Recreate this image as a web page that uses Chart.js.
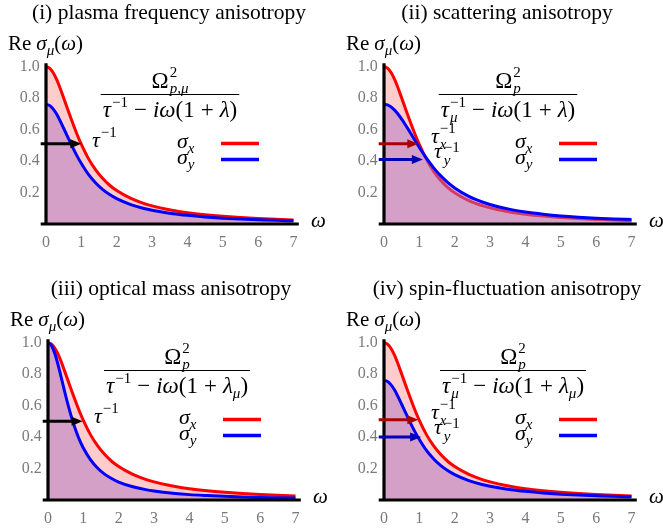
<!DOCTYPE html>
<html>
<head>
<meta charset="utf-8">
<script src="https://cdn.jsdelivr.net/npm/chart.js@4.4.0/dist/chart.umd.min.js"></script>
<style>
  body { margin: 0; background: #fff; width: 663px; height: 530px; position: relative; overflow: hidden; }
  .panel { position: absolute; width: 325px; height: 254px; }
</style>
</head>
<body>
<div class="panel" style="left:0;top:0"><canvas id="c1" width="325" height="254"></canvas></div>
<div class="panel" style="left:338px;top:0"><canvas id="c2" width="325" height="254"></canvas></div>
<div class="panel" style="left:2px;top:276px"><canvas id="c3" width="325" height="254"></canvas></div>
<div class="panel" style="left:338px;top:276px"><canvas id="c4" width="325" height="254"></canvas></div>
<script>
// frequency grid (omega) and curves
const omega = [0, 0.1, 0.2, 0.3, 0.4, 0.5, 0.6, 0.7, 0.8, 0.9, 1.0, 1.2, 1.4, 1.6, 1.8, 2.0, 2.4, 2.8, 3.2, 3.6, 4.0, 4.5, 5, 5.5, 6, 6.5, 7];

const sigmaX_i   = [1.000, 0.990, 0.962, 0.918, 0.862, 0.800, 0.737, 0.674, 0.614, 0.557, 0.505, 0.415, 0.345, 0.290, 0.246, 0.212, 0.162, 0.128, 0.104, 0.086, 0.072, 0.059, 0.049, 0.041, 0.035, 0.030, 0.026];
const sigmaY_i   = [0.760, 0.752, 0.731, 0.698, 0.655, 0.608, 0.560, 0.512, 0.466, 0.423, 0.384, 0.315, 0.262, 0.220, 0.187, 0.161, 0.123, 0.097, 0.079, 0.065, 0.055, 0.045, 0.037, 0.031, 0.027, 0.023, 0.020];

const sigmaX_ii  = [1.000, 0.990, 0.962, 0.918, 0.862, 0.800, 0.737, 0.674, 0.614, 0.557, 0.505, 0.410, 0.335, 0.278, 0.233, 0.198, 0.148, 0.115, 0.092, 0.075, 0.062, 0.050, 0.041, 0.034, 0.029, 0.025, 0.021];
const sigmaY_ii  = [0.760, 0.756, 0.743, 0.723, 0.697, 0.666, 0.632, 0.596, 0.559, 0.522, 0.486, 0.418, 0.358, 0.307, 0.264, 0.229, 0.175, 0.138, 0.111, 0.091, 0.076, 0.062, 0.051, 0.043, 0.037, 0.032, 0.028];

const sigmaX_iii = [1.000, 0.990, 0.962, 0.918, 0.862, 0.800, 0.737, 0.674, 0.614, 0.557, 0.505, 0.415, 0.345, 0.290, 0.246, 0.212, 0.162, 0.128, 0.104, 0.086, 0.072, 0.059, 0.049, 0.041, 0.035, 0.030, 0.026];
const sigmaY_iii = [1.000, 0.980, 0.925, 0.845, 0.754, 0.662, 0.577, 0.500, 0.434, 0.377, 0.330, 0.256, 0.203, 0.164, 0.136, 0.114, 0.084, 0.064, 0.051, 0.041, 0.034, 0.028, 0.023, 0.019, 0.016, 0.014, 0.012];

const sigmaX_iv  = [1.000, 0.990, 0.962, 0.918, 0.862, 0.800, 0.737, 0.674, 0.614, 0.557, 0.505, 0.415, 0.345, 0.290, 0.246, 0.212, 0.162, 0.128, 0.104, 0.086, 0.072, 0.059, 0.049, 0.041, 0.035, 0.030, 0.026];
const sigmaY_iv  = [0.760, 0.752, 0.731, 0.698, 0.655, 0.608, 0.560, 0.512, 0.466, 0.423, 0.384, 0.315, 0.262, 0.220, 0.187, 0.161, 0.123, 0.097, 0.079, 0.065, 0.055, 0.045, 0.037, 0.031, 0.027, 0.023, 0.020];

// tau^-1 arrows: height and where the tip ends
const arrowLevel_i = [0.51],        arrowTip_i = [1.0];
const arrowLevel_ii = [0.51, 0.41], arrowTip_ii = [0.97, 1.1];
const arrowLevel_iii = [0.50],      arrowTip_iii = [0.98];
const arrowLevel_iv = [0.51, 0.40], arrowTip_iv = [0.97, 1.05];

const xTicks = [0, 1, 2, 3, 4, 5, 6, 7];
const yTicks = [0.2, 0.4, 0.6, 0.8, 1.0];

const titles = [
  '(i) plasma frequency anisotropy',
  '(ii) scattering anisotropy',
  '(iii) optical mass anisotropy',
  '(iv) spin-fluctuation anisotropy'
];

const FONT = '"Liberation Serif", "DejaVu Serif", serif';
const S = 22, s = 15, F2 = 23;

function fnt(p){
  return (p[1] === 'i' ? 'italic ' : '') + p[2] + 'px ' + FONT;
}
function G(n){ return {gap: n}; }

// parts: [text, 'i'|'n', size, dy, stackUnderPrevious] or a gap
function measure(ctx, parts){
  let cx = 0, lastStart = 0, lastEnd = 0;
  const pos = [];
  parts.forEach(p => {
    if(p.gap !== undefined){ pos.push(cx); cx += p.gap; lastStart = cx; lastEnd = cx; return; }
    ctx.font = fnt(p);
    const w = ctx.measureText(p[0]).width;
    const start = p[4] ? lastStart : cx;
    pos.push(start);
    if(p[4]){ cx = Math.max(lastEnd, start + w); }
    else { lastStart = start; lastEnd = start + w; cx = start + w; }
  });
  return {w: cx, pos: pos};
}

function rich(ctx, parts, x, y, align){
  const m = measure(ctx, parts);
  let x0 = x;
  if(align === 'center') x0 = x - m.w / 2;
  ctx.textAlign = 'left';
  ctx.textBaseline = 'alphabetic';
  parts.forEach((p, k) => {
    if(p.gap !== undefined) return;
    ctx.font = fnt(p);
    ctx.fillText(p[0], x0 + m.pos[k], y + (p[3] || 0));
  });
  return m.w;
}

const numA = [['Ω','n',F2,0],G(1),['2','n',s,-11],['p,μ','i',s,5,true]];
const numB = [['Ω','n',F2,0],G(1),['2','n',s,-11],['p','i',s,5,true]];
const tail = [G(6),['−','n',F2,0],G(6),['iω','i',F2,0],['(1','n',F2,0],G(6),['+','n',F2,0],G(6),['λ','i',F2,0]];
const denoms = [
  [['τ','i',F2,0],G(1),['−1','n',s,-10]].concat(tail, [[')','n',F2,0]]),
  [['τ','i',F2,0],G(1),['−1','n',s,-10],['μ','i',s,5,true]].concat(tail, [[')','n',F2,0]]),
  [['τ','i',F2,0],G(1),['−1','n',s,-10]].concat(tail, [['μ','i',s,5],[')','n',F2,0]]),
  [['τ','i',F2,0],G(1),['−1','n',s,-10],['μ','i',s,5,true]].concat(tail, [['μ','i',s,5],[')','n',F2,0]])
];
const nums = [numA, numB, numB, numB];
const fracCenter = [170, 170, 175, 175];

const yLabel = [['Re','n',21,0],G(5),['σ','i',21,0],['μ','i',s,5],['(','n',21,0],['ω','i',21,0],[')','n',21,0]];

function arrow(ctx, x0, x1, y, color){
  ctx.save();
  ctx.strokeStyle = color; ctx.fillStyle = color;
  ctx.lineWidth = 3;
  ctx.beginPath(); ctx.moveTo(x0, y); ctx.lineTo(x1 - 8, y); ctx.stroke();
  ctx.beginPath(); ctx.moveTo(x1, y); ctx.lineTo(x1 - 11, y - 4.5); ctx.lineTo(x1 - 11, y + 4.5); ctx.closePath(); ctx.fill();
  ctx.restore();
}

function overlay(idx, levels, tips){
  return {
    id: 'overlay' + idx,
    afterDatasetsDraw(chart){
      const ctx = chart.ctx, xs = chart.scales.x, ys = chart.scales.y;
      ctx.save();
      // axes
      ctx.strokeStyle = '#000'; ctx.lineWidth = 3.2;
      ctx.beginPath();
      ctx.moveTo(xs.getPixelForValue(0), ys.getPixelForValue(0));
      ctx.lineTo(xs.getPixelForValue(0), ys.getPixelForValue(1.02));
      ctx.moveTo(xs.getPixelForValue(-0.15), ys.getPixelForValue(0));
      ctx.lineTo(xs.getPixelForValue(7.15), ys.getPixelForValue(0));
      ctx.stroke();

      // arrows
      const twoArrows = levels.length > 1;
      const arrowColors = twoArrows ? ['#a80000', '#0000b4'] : ['#000'];
      levels.forEach((lv, k) => {
        arrow(ctx, xs.getPixelForValue(-0.15), xs.getPixelForValue(tips[k]), ys.getPixelForValue(lv), arrowColors[k]);
      });

      ctx.fillStyle = '#000';
      // tau labels
      if(twoArrows){
        rich(ctx, [['τ','i',S,0],G(1),['−1','n',s,-10],['x','i',s,6,true]], 93, 143);
        rich(ctx, [['τ','i',S,0],G(2),['−1','n',s,-6],['y','i',s,7,true]], 96, 158);
      } else {
        rich(ctx, [['τ','i',S,0],G(1),['−1','n',s,-10]], 92, 146.5);
      }

      // formula
      const cx = fracCenter[idx];
      rich(ctx, nums[idx], cx, 88, 'center');
      const dw = rich(ctx, denoms[idx], cx, 116.5, 'center');
      ctx.strokeStyle = '#000'; ctx.lineWidth = 1;
      ctx.beginPath(); ctx.moveTo(cx - dw / 2 - 2, 94.5); ctx.lineTo(cx + dw / 2 + 2, 94.5); ctx.stroke();

      // legend
      rich(ctx, [['σ','i',S,0],['x','i',s,5]], 177, 148);
      rich(ctx, [['σ','i',S,0],['y','i',s,5]], 177, 163.5);
      ctx.lineWidth = 3.5;
      ctx.strokeStyle = '#ff0000';
      ctx.beginPath(); ctx.moveTo(221, 143.5); ctx.lineTo(259, 143.5); ctx.stroke();
      ctx.strokeStyle = '#0000ff';
      ctx.beginPath(); ctx.moveTo(221, 159.5); ctx.lineTo(259, 159.5); ctx.stroke();

      // titles and axis names
      ctx.font = '21.5px ' + FONT;
      ctx.textAlign = 'center'; ctx.textBaseline = 'alphabetic';
      ctx.fillText(titles[idx], 169, 19);
      rich(ctx, yLabel, 8, 50);
      rich(ctx, [['ω','i',21,0]], 311, 227);
      ctx.restore();
    }
  };
}

function makeChart(id, idx, sx, sy, levels, tips){
  const pts = arr => omega.map((w, k) => ({x: w, y: arr[k]}));
  return new Chart(document.getElementById(id), {
    type: 'line',
    data: {
      datasets: [
        { data: pts(sx), borderColor: '#ff0000', backgroundColor: 'rgba(255,0,0,0.2)', fill: 'origin',
          borderWidth: 3, pointRadius: 0, cubicInterpolationMode: 'monotone', order: 2 },
        { data: pts(sy), borderColor: '#0000ff', backgroundColor: 'rgba(169,116,196,0.5)', fill: 'origin',
          borderWidth: 3, pointRadius: 0, cubicInterpolationMode: 'monotone', order: 1 }
      ]
    },
    options: {
      responsive: false,
      animation: false,
      events: [],
      layout: { padding: { left: 0, top: 61.8, right: 26.2, bottom: 0 } },
      plugins: { legend: { display: false }, tooltip: { enabled: false } },
      scales: {
        x: {
          type: 'linear', min: -0.15, max: 7.15,
          grid: { display: false, drawTicks: false }, border: { display: false },
          afterBuildTicks: sc => { sc.ticks = xTicks.map(v => ({value: v})); },
          afterFit: sc => { sc.height = 25.3; },
          ticks: { font: { family: FONT, size: 16 }, color: '#7a7a7a', padding: 4, maxRotation: 0, autoSkip: false }
        },
        y: {
          min: -0.03, max: 1.03,
          grid: { display: false, drawTicks: false }, border: { display: false },
          afterBuildTicks: sc => { sc.ticks = yTicks.map(v => ({value: v})); },
          afterFit: sc => { sc.width = 40.7; },
          ticks: { font: { family: FONT, size: 16 }, color: '#7a7a7a', padding: 1, autoSkip: false,
                   callback: v => v.toFixed(1) }
        }
      }
    },
    plugins: [overlay(idx, levels, tips)]
  });
}

makeChart('c1', 0, sigmaX_i, sigmaY_i, arrowLevel_i, arrowTip_i);
makeChart('c2', 1, sigmaX_ii, sigmaY_ii, arrowLevel_ii, arrowTip_ii);
makeChart('c3', 2, sigmaX_iii, sigmaY_iii, arrowLevel_iii, arrowTip_iii);
makeChart('c4', 3, sigmaX_iv, sigmaY_iv, arrowLevel_iv, arrowTip_iv);
</script>
</body>
</html>
